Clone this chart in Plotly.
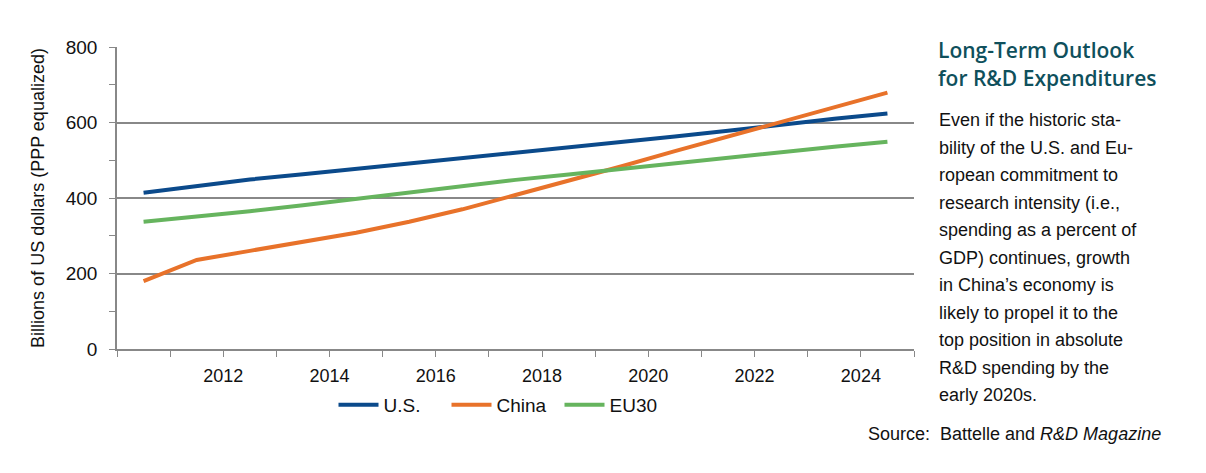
import plotly.graph_objects as go

years = [2010.5, 2011.5, 2012.5, 2013.5, 2014.5, 2015.5, 2016.5, 2017.5,
         2018.5, 2019.5, 2020.5, 2021.5, 2022.5, 2023.5, 2024.5]
us = [414, 432, 449, 463, 477, 491, 506, 520, 534, 548, 563, 578, 595, 610, 624]
china = [180, 236, 260, 284, 308, 337, 370, 408, 445, 484, 524, 563, 602, 641, 679]
eu30 = [337, 350, 365, 381, 398, 416, 433, 448, 462, 477, 493, 508, 522, 536, 549]

tick_years = [2012, 2014, 2016, 2018, 2020, 2022, 2024]
tick_labels = [str(y) for y in tick_years]

title_lines = ["Long-Term Outlook", "for R&D Expenditures"]
body_lines = [
    "Even if the historic sta-",
    "bility of the U.S. and Eu-",
    "ropean commitment to",
    "research intensity (i.e.,",
    "spending as a percent of",
    "GDP) continues, growth",
    "in China\u2019s economy is",
    "likely to propel it to the",
    "top position in absolute",
    "R&D spending by the",
    "early 2020s.",
]
source_text = "Source:  Battelle and <i>R&D Magazine</i>"

FONT = "Liberation Sans, Arial, sans-serif"
W, H = 1206, 473
L, R, T, B = 117, 292, 47, 124
PW, PH = W - L - R, H - T - B


def px(x):
    return (x - L) / PW


def py(y):
    return (H - B - y) / PH


fig = go.Figure()
fig.add_trace(go.Scatter(x=years, y=us, name="U.S.", mode="lines",
                         line=dict(color="#0b4a8b", width=4)))
fig.add_trace(go.Scatter(x=years, y=china, name="China", mode="lines",
                         line=dict(color="#e8722a", width=4)))
fig.add_trace(go.Scatter(x=years, y=eu30, name="EU30", mode="lines",
                         line=dict(color="#66b45e", width=4)))

annotations = []
for i, t in enumerate(title_lines):
    annotations.append(dict(
        text=t, xref="paper", yref="paper", x=px(936), y=py(50 + i * 28),
        xanchor="left", yanchor="middle", showarrow=False,
        font=dict(family="Open Sans, sans-serif", size=21, color="#0f505c", weight=600)))
for i, t in enumerate(body_lines):
    annotations.append(dict(
        text=t, xref="paper", yref="paper", x=px(937), y=py(120 + i * 27.5),
        xanchor="left", yanchor="middle", showarrow=False,
        font=dict(family=FONT, size=18, color="#111111")))
annotations.append(dict(
    text=source_text, xref="paper", yref="paper", x=px(1163), y=py(434),
    xanchor="right", yanchor="middle", showarrow=False,
    font=dict(family=FONT, size=18, color="#111111")))

fig.update_layout(
    width=W, height=H,
    margin=dict(l=L, r=R, t=T, b=B, pad=0),
    paper_bgcolor="white", plot_bgcolor="white",
    font=dict(family=FONT, size=18, color="#111111"),
    showlegend=True,
    legend=dict(orientation="h", x=px(503), xanchor="center", y=py(405),
                yanchor="middle", font=dict(size=19), itemwidth=40,
                entrywidth=58, entrywidthmode="pixels",
                tracegroupgap=0, bgcolor="rgba(0,0,0,0)"),
    annotations=annotations,
    xaxis=dict(range=[2010, 2025], tickvals=tick_years, ticktext=tick_labels,
               ticks="outside", ticklen=6, tickcolor="#888888",
               showline=True, linecolor="#888888", linewidth=1.5,
               showgrid=False, zeroline=False,
               minor=dict(dtick=1, tick0=2010, ticks="outside", ticklen=6,
                          tickcolor="#888888", showgrid=False),
               tickfont=dict(size=18), ticklabelstandoff=4),
    yaxis=dict(range=[0, 800], tickvals=[0, 200, 400, 600, 800],
               ticks="outside", ticklen=6, tickcolor="#888888",
               showline=True, linecolor="#888888", linewidth=1.5,
               showgrid=True, gridcolor="#888888", gridwidth=1.5,
               zeroline=False,
               minor=dict(dtick=100, ticks="outside", ticklen=6,
                          tickcolor="#888888", showgrid=False),
               title=dict(text="Billions of US dollars (PPP equalized)",
                          font=dict(size=18), standoff=16),
               tickfont=dict(size=19), ticklabelstandoff=8),
)

fig.write_html("out.html", config={"displayModeBar": False},
               post_script="document.body.style.margin='0';")
